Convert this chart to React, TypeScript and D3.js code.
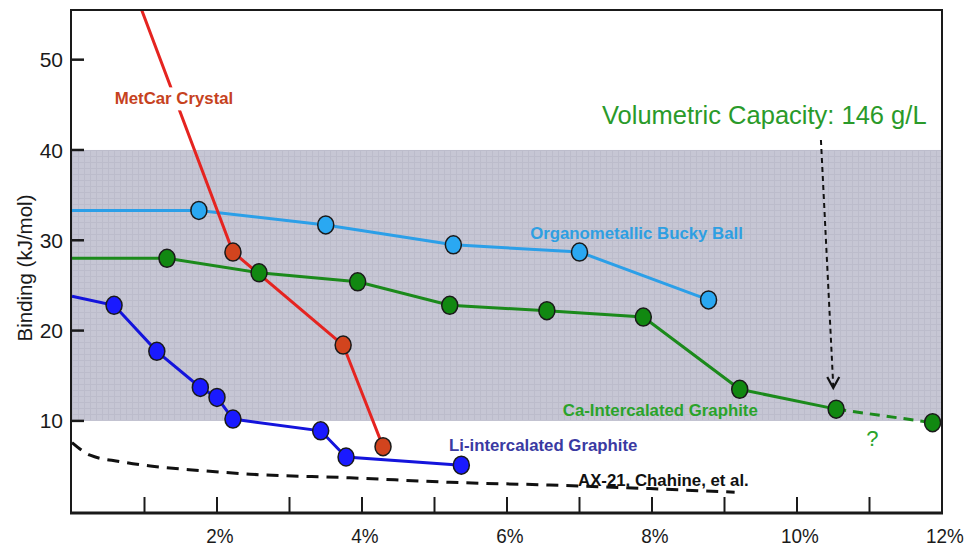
import React, { useEffect, useRef } from 'react';
import * as d3 from 'd3';

// Li-intercalated graphite (first point is the left edge, no marker)
const liX = [0, 0.58, 1.17, 1.77, 2.0, 2.22, 3.43, 3.78, 5.37];
const liY = [23.8, 22.8, 17.7, 13.7, 12.6, 10.2, 8.9, 6.0, 5.1];

// MetCar crystal (first point lies above the frame)
const metX = [0.9, 2.22, 3.74, 4.29];
const metY = [56.8, 28.7, 18.4, 7.15];

// Organometallic bucky ball
const buckyX = [0, 1.75, 3.5, 5.26, 7.0, 8.78];
const buckyY = [33.3, 33.3, 31.7, 29.5, 28.7, 23.4];

// Ca-intercalated graphite, measured + projected part
const caX = [0, 1.31, 2.58, 3.94, 5.21, 6.55, 7.88, 9.21, 10.54];
const caY = [28.0, 28.0, 26.4, 25.4, 22.8, 22.2, 21.5, 13.5, 11.3];
const caProjX = [10.54, 11.87];
const caProjY = [11.3, 9.8];

// AX-21, Chahine et al.
const axX = [0, 0.25, 0.66, 1.08, 1.77, 2.46, 3.83, 5.21, 6.59, 7.97, 9.14];
const axY = [7.6, 6.2, 5.5, 5.0, 4.5, 4.1, 3.7, 3.2, 2.9, 2.5, 2.1];

const band = [10, 40];
const yTicks = [10, 20, 30, 40, 50];
const xTicks = [1, 2, 3, 4, 5, 6, 7, 8, 9, 10, 11];
const xLabels = [2, 4, 6, 8, 10, 12];

const zip = (xs, ys) => xs.map((x, i) => ({ x, y: ys[i] }));

const App = () => {
  const ref = useRef(null);

  useEffect(() => {
    document.body.style.margin = '0';
    const W = 968, H = 547;
    const left = 71, right = 942, top = 10, bottom = 513;

    const root = d3.select(ref.current);
    root.selectAll('*').remove();
    const svg = root.append('svg')
      .attr('width', W)
      .attr('height', H)
      .style('display', 'block')
      .style('font-family', '"Liberation Sans", Arial, sans-serif');

    const x = d3.scaleLinear().domain([0, 12]).range([72, 942]);
    const y = d3.scaleLinear().domain([-0.2, 55.5]).range([bottom, top]);

    const defs = svg.append('defs');
    defs.append('clipPath').attr('id', 'plot')
      .append('rect')
      .attr('x', left).attr('y', top)
      .attr('width', right - left).attr('height', bottom - top);
    const pat = defs.append('pattern').attr('id', 'grid')
      .attr('patternUnits', 'userSpaceOnUse')
      .attr('width', 6).attr('height', 6);
    pat.append('rect').attr('width', 6).attr('height', 6).attr('fill', '#c6c6d4');
    pat.append('path').attr('d', 'M0,0.5H6M0.5,0V6')
      .attr('stroke', '#bcbccb').attr('stroke-width', 1);

    // white background + shaded band
    svg.append('rect').attr('width', W).attr('height', H).attr('fill', '#fff');
    svg.append('rect')
      .attr('x', left).attr('width', right - left)
      .attr('y', y(band[1])).attr('height', y(band[0]) - y(band[1]))
      .attr('fill', 'url(#grid)');

    const g = svg.append('g').attr('clip-path', 'url(#plot)');
    const line = d3.line().x(d => x(d.x)).y(d => y(d.y));

    // AX-21 dashed curve
    g.append('path')
      .datum(zip(axX, axY))
      .attr('fill', 'none').attr('stroke', '#111').attr('stroke-width', 3)
      .attr('stroke-dasharray', '12,8')
      .attr('d', line.curve(d3.curveMonotoneX));
    line.curve(d3.curveLinear);

    const series = [
      { xs: buckyX, ys: buckyY, stroke: '#2b9fe8', fill: '#2aa8f2' },
      { xs: caX, ys: caY, stroke: '#1b8a1b', fill: '#118811' },
      { xs: liX, ys: liY, stroke: '#1414dc', fill: '#1a1aff' },
      { xs: metX, ys: metY, stroke: '#e52420', fill: '#d2441e' },
    ];

    // projected Ca part
    g.append('path')
      .datum(zip(caProjX, caProjY))
      .attr('fill', 'none').attr('stroke', '#1b8a1b').attr('stroke-width', 3)
      .attr('stroke-dasharray', '10,7')
      .attr('d', line);

    series.forEach(s => {
      g.append('path')
        .datum(zip(s.xs, s.ys))
        .attr('fill', 'none').attr('stroke', s.stroke).attr('stroke-width', 3)
        .attr('d', line);
    });

    // MetCar label with white box that breaks the line
    const met = svg.append('text')
      .attr('x', x(0.59)).attr('y', y(45.7)).attr('dy', '0.35em')
      .attr('font-size', 16.8).attr('font-weight', 'bold')
      .attr('fill', '#c6421e').text('MetCar Crystal');
    const bb = met.node().getBBox();
    svg.insert('rect', () => met.node())
      .attr('x', bb.x - 2).attr('y', bb.y - 2)
      .attr('width', bb.width + 4).attr('height', bb.height + 4)
      .attr('fill', '#fff');

    const addMarks = (xs, ys, fill, skipFirst) => {
      g.selectAll(null)
        .data(zip(xs, ys).slice(skipFirst ? 1 : 0))
        .enter().append('ellipse')
        .attr('cx', d => x(d.x)).attr('cy', d => y(d.y))
        .attr('rx', 8).attr('ry', 9)
        .attr('fill', fill).attr('stroke', '#1a1a1a').attr('stroke-width', 1.5);
    };
    series.forEach(s => addMarks(s.xs, s.ys, s.fill, true));
    addMarks(caProjX.slice(1), caProjY.slice(1), '#118811', false);

    // frame
    svg.append('rect')
      .attr('x', left).attr('y', top)
      .attr('width', right - left).attr('height', bottom - top)
      .attr('fill', 'none').attr('stroke', '#1a1a1a').attr('stroke-width', 2);
    svg.append('line')
      .attr('x1', left - 1).attr('x2', right + 1)
      .attr('y1', bottom).attr('y2', bottom)
      .attr('stroke', '#1a1a1a').attr('stroke-width', 3);

    // ticks (inward)
    svg.selectAll(null).data(yTicks).enter().append('line')
      .attr('x1', left).attr('x2', left + 13)
      .attr('y1', d => y(d)).attr('y2', d => y(d))
      .attr('stroke', '#1a1a1a').attr('stroke-width', 2.5);
    svg.selectAll(null).data(yTicks).enter().append('text')
      .attr('x', left - 8).attr('y', d => y(d)).attr('dy', '0.36em')
      .attr('text-anchor', 'end').attr('font-size', 21).attr('fill', '#1a1a1a')
      .text(d => d);
    svg.selectAll(null).data(xTicks).enter().append('line')
      .attr('x1', d => x(d)).attr('x2', d => x(d))
      .attr('y1', bottom).attr('y2', bottom - 16)
      .attr('stroke', '#1a1a1a').attr('stroke-width', 2);
    svg.selectAll(null).data(xLabels).enter().append('text')
      .attr('x', d => x(d) + 3).attr('y', bottom + 22).attr('dy', '0.36em')
      .attr('text-anchor', 'middle').attr('font-size', 21)
      .attr('fill', '#1a1a1a')
      .attr('transform', d => `translate(${x(d) + 3},0) scale(0.9,1) translate(${-(x(d) + 3)},0)`)
      .text(d => d + '%');

    svg.append('text')
      .attr('transform', 'translate(25,268) rotate(-90)')
      .attr('text-anchor', 'middle').attr('dy', '0.35em')
      .attr('font-size', 20.5).attr('fill', '#1a1a1a')
      .text('Binding (kJ/mol)');

    // series labels
    const labels = [
      { t: 'Organometallic Bucky Ball', x: 6.32, y: 30.8, c: '#2e9fe2' },
      { t: 'Ca-Intercalated Graphite', x: 6.77, y: 11.2, c: '#2aa32a' },
      { t: 'Li-intercalated Graphite', x: 5.2, y: 7.34, c: '#3a3aa2' },
      { t: 'AX-21, Chahine, et al.', x: 6.98, y: 3.47, c: '#111' },
    ];
    svg.selectAll(null).data(labels).enter().append('text')
      .attr('x', d => x(d.x)).attr('y', d => y(d.y)).attr('dy', '0.35em')
      .attr('font-size', 16.8).attr('font-weight', 'bold')
      .attr('fill', d => d.c).text(d => d.t);

    svg.append('text')
      .attr('x', x(7.31)).attr('y', y(43.9)).attr('dy', '0.35em')
      .attr('font-size', 25.5).attr('fill', '#2a9a2a')
      .text('Volumetric Capacity: 146 g/L');
    svg.append('text')
      .attr('x', x(11.04)).attr('y', y(8.1)).attr('dy', '0.35em')
      .attr('text-anchor', 'middle').attr('font-size', 22).attr('fill', '#2aa32a')
      .text('?');

    // dashed arrow
    const ax1 = x(10.33), ay1 = y(41.1), ax2 = x(10.5), ay2 = y(13.65);
    svg.append('line')
      .attr('x1', ax1).attr('y1', ay1).attr('x2', ax2).attr('y2', ay2 - 2)
      .attr('stroke', '#111').attr('stroke-width', 2)
      .attr('stroke-dasharray', '5,4');
    svg.append('path')
      .attr('d', `M${ax2 - 6},${ay2 - 11}L${ax2},${ay2}L${ax2 + 6},${ay2 - 11}`)
      .attr('fill', 'none').attr('stroke', '#111').attr('stroke-width', 2.2);
  }, []);

  return <div ref={ref}></div>;
};

export default App;
